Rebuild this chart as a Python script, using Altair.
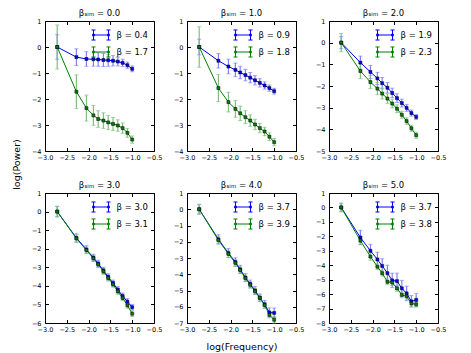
import altair as alt
import pandas as pd

# ---- data ----
log_freq = [-2.72, -2.28, -2.05, -1.89, -1.78, -1.66, -1.55, -1.44, -1.33, -1.22, -1.11, -1.00]

beta_sim = ["0.0", "1.0", "2.0", "3.0", "4.0", "5.0"]
beta_fit_blue = ["0.4", "0.9", "1.9", "3.0", "3.7", "3.7"]
beta_fit_green = ["1.7", "1.8", "2.3", "3.1", "3.9", "3.8"]
y_floor = [-4, -4, -5, -6, -7, -8]

blue_p0 = [0, -0.39, -0.46, -0.47, -0.48, -0.50, -0.51, -0.53, -0.56, -0.61, -0.70, -0.84]
blue_e0 = [0.47, 0.32, 0.28, 0.27, 0.26, 0.25, 0.23, 0.20, 0.17, 0.14, 0.12, 0.11]
green_p0 = [0, -1.72, -2.35, -2.63, -2.77, -2.83, -2.90, -2.96, -3.02, -3.12, -3.30, -3.56]
green_e0 = [0.85, 0.65, 0.50, 0.38, 0.32, 0.30, 0.27, 0.25, 0.22, 0.20, 0.17, 0.14]

blue_p1 = [0, -0.53, -0.75, -0.88, -0.98, -1.08, -1.18, -1.28, -1.38, -1.48, -1.58, -1.70]
blue_e1 = [0.30, 0.28, 0.28, 0.26, 0.24, 0.22, 0.20, 0.18, 0.16, 0.14, 0.12, 0.11]
green_p1 = [0, -1.58, -2.12, -2.38, -2.55, -2.70, -2.83, -2.98, -3.12, -3.25, -3.45, -3.66]
green_e1 = [0.78, 0.52, 0.38, 0.32, 0.28, 0.25, 0.22, 0.20, 0.18, 0.16, 0.15, 0.14]

blue_p2 = [0, -0.92, -1.35, -1.65, -1.87, -2.08, -2.32, -2.56, -2.79, -3.01, -3.25, -3.43]
blue_e2 = [0.28, 0.30, 0.30, 0.28, 0.26, 0.24, 0.22, 0.20, 0.18, 0.16, 0.14, 0.12]
green_p2 = [0, -1.31, -1.82, -2.12, -2.35, -2.58, -2.81, -3.05, -3.33, -3.62, -3.95, -4.27]
green_e2 = [0.42, 0.35, 0.30, 0.28, 0.25, 0.22, 0.20, 0.18, 0.16, 0.15, 0.14, 0.14]

blue_p3 = [0, -1.42, -2.04, -2.48, -2.80, -3.17, -3.52, -3.85, -4.20, -4.55, -4.85, -5.15]
blue_e3 = [0.28, 0.22, 0.20, 0.18, 0.18, 0.17, 0.17, 0.16, 0.16, 0.16, 0.16, 0.15]
green_p3 = [0, -1.45, -2.08, -2.52, -2.85, -3.22, -3.58, -3.92, -4.30, -4.65, -5.05, -5.50]
green_e3 = [0.28, 0.20, 0.18, 0.17, 0.17, 0.16, 0.16, 0.15, 0.15, 0.15, 0.15, 0.15]

blue_p4 = [0, -1.85, -2.70, -3.25, -3.70, -4.20, -4.60, -5.00, -5.45, -5.85, -6.35, -6.38]
blue_e4 = [0.30, 0.28, 0.28, 0.26, 0.25, 0.24, 0.24, 0.24, 0.24, 0.24, 0.28, 0.30]
green_p4 = [0, -1.90, -2.75, -3.30, -3.75, -4.25, -4.65, -5.05, -5.45, -5.90, -6.50, -6.80]
green_e4 = [0.28, 0.24, 0.22, 0.20, 0.20, 0.20, 0.20, 0.18, 0.18, 0.18, 0.18, 0.20]

blue_p5 = [0, -2.08, -3.00, -3.60, -4.05, -4.55, -5.05, -5.10, -5.60, -5.95, -6.50, -6.40]
blue_e5 = [0.30, 0.50, 0.45, 0.50, 0.50, 0.55, 0.50, 0.55, 0.55, 0.50, 0.40, 0.45]
green_p5 = [0, -2.30, -3.40, -4.10, -4.55, -5.15, -5.20, -5.60, -6.05, -6.15, -6.65, -6.70]
green_e5 = [0.25, 0.25, 0.25, 0.20, 0.20, 0.20, 0.20, 0.20, 0.20, 0.20, 0.20, 0.20]

blue_p = [blue_p0, blue_p1, blue_p2, blue_p3, blue_p4, blue_p5]
blue_e = [blue_e0, blue_e1, blue_e2, blue_e3, blue_e4, blue_e5]
green_p = [green_p0, green_p1, green_p2, green_p3, green_p4, green_p5]
green_e = [green_e0, green_e1, green_e2, green_e3, green_e4, green_e5]

x_ticks = [-3.0, -2.5, -2.0, -1.5, -1.0, -0.5]

FONT = "DejaVu Sans"
BLUE = "#0000ff"
GREEN = "#008000"
BLUE_LIGHT = "#8080ff"
GREEN_LIGHT = "#80bf80"

# legend handle: line with capped error bars and markers at both ends
HANDLE = ("M-1,0L1,0 "
          "M-1,-0.67L-1,0.67 M1,-0.67L1,0.67 "
          "M-1.27,-0.67L-0.73,-0.67 M-1.27,0.67L-0.73,0.67 "
          "M0.73,-0.67L1.27,-0.67 M0.73,0.67L1.27,0.67 "
          "M-1.12,-0.12L-0.88,-0.12L-0.88,0.12L-1.12,0.12Z "
          "M0.88,-0.12L1.12,-0.12L1.12,0.12L0.88,0.12Z")


def panel(i):
    lab_b = f"β = {beta_fit_blue[i]}"
    lab_g = f"β = {beta_fit_green[i]}"
    rows = []
    for lab, ps, es in ((lab_b, blue_p[i], blue_e[i]), (lab_g, green_p[i], green_e[i])):
        for xv, yv, ev in zip(log_freq, ps, es):
            rows.append({"x": xv, "y": yv, "lo": yv - ev, "hi": yv + ev, "series": lab})
    df = pd.DataFrame(rows)

    xaxis_kw = dict(values=x_ticks, format=".1f", title=None, labelOverlap=False,
                    labelFlush=False)
    if i == 4:
        xaxis_kw.update(title="log(Frequency)", titleY=26, titleBaseline="alphabetic")
    yaxis_kw = dict(values=list(range(y_floor[i], 2)), format="d", title=None,
                    labelOverlap=False, labelFlush=False)
    if i == 0:
        yaxis_kw.update(title="log(Power)", titleX=-25.5, titleY=143,
                        titleBaseline="alphabetic", titleAlign="center")

    xax = alt.Axis(**xaxis_kw)
    yax = alt.Axis(**yaxis_kw)
    xs = alt.Scale(domain=[-3, -0.5], nice=False, zero=False)
    ys = alt.Scale(domain=[y_floor[i], 1], nice=False, zero=False)
    x = alt.X("x:Q", scale=xs, axis=xax)
    y = alt.Y("y:Q", scale=ys, axis=yax)
    y_lo = alt.Y("lo:Q", scale=ys, axis=yax)
    y_hi = alt.Y("hi:Q", scale=ys, axis=yax)
    dom = [lab_b, lab_g]
    color_leg = alt.Color(
        "series:N", scale=alt.Scale(domain=dom, range=[BLUE, GREEN]),
        legend=alt.Legend(title=None, orient="top-right", offset=6, padding=0,
                          symbolType=HANDLE, symbolSize=225, symbolStrokeWidth=1,
                          symbolOpacity=1, labelOffset=7.5, rowPadding=1,
                          labelFont=FONT, labelFontSize=8.5, labelColor="black"))
    color_pt = alt.Color("series:N", scale=alt.Scale(domain=dom, range=[BLUE, GREEN]),
                         legend=None)
    color_err = alt.Color("series:N",
                          scale=alt.Scale(domain=dom, range=[BLUE_LIGHT, GREEN_LIGHT]),
                          legend=None)

    base = alt.Chart(df)
    bars = base.mark_rule(strokeWidth=1.2).encode(
        x=x, y=y_lo, y2="hi:Q", color=color_err)
    cap_lo = base.mark_tick(orient="horizontal", size=4, thickness=1).encode(
        x=x, y=y_lo, color=color_err)
    cap_hi = base.mark_tick(orient="horizontal", size=4, thickness=1).encode(
        x=x, y=y_hi, color=color_err)
    line = base.mark_line(strokeWidth=1).encode(x=x, y=y, color=color_leg)
    pts = base.mark_square(size=9, filled=True, stroke="black", strokeWidth=0.5, opacity=1).encode(
        x=x, y=y, color=color_pt)

    return alt.layer(bars, cap_lo, cap_hi, line, pts).resolve_scale(
        color="independent").properties(
        width=109, height=130,
        title=alt.TitleParams(text=f"βₛᵢₘ = {beta_sim[i]}", font=FONT, fontSize=8.5,
                              fontWeight="normal", color="black", offset=-6.5,
                              baseline="alphabetic", frame="group"))


chart = alt.concat(*[panel(i) for i in range(6)], columns=3,
                   spacing={"row": 42, "column": 33}, bounds="flush")
chart = chart.resolve_scale(color="independent", x="independent", y="independent") \
             .resolve_legend(color="independent")
chart = chart.properties(padding={"left": 3, "top": 0, "right": 5, "bottom": 2})
chart = chart.configure_view(stroke="black", strokeWidth=1) \
    .configure_axis(labelFont=FONT, labelFontSize=6.5, labelColor="black",
                    domain=False, ticks=False, tickSize=0, grid=True,
                    gridColor="black", gridOpacity=1, gridWidth=1,
                    labelFlush=False, labelOverlap=False,
                    titleFont=FONT, titleFontSize=9.5, titleColor="black",
                    titleFontWeight="normal") \
    .configure_axisX(gridDash=[3.5, 123, 3.5, 300], labelPadding=3.8) \
    .configure_axisY(gridDash=[3.5, 102, 3.5, 300], labelPadding=4)

chart.save("out.html", embed_options={"renderer": "svg", "actions": False})
